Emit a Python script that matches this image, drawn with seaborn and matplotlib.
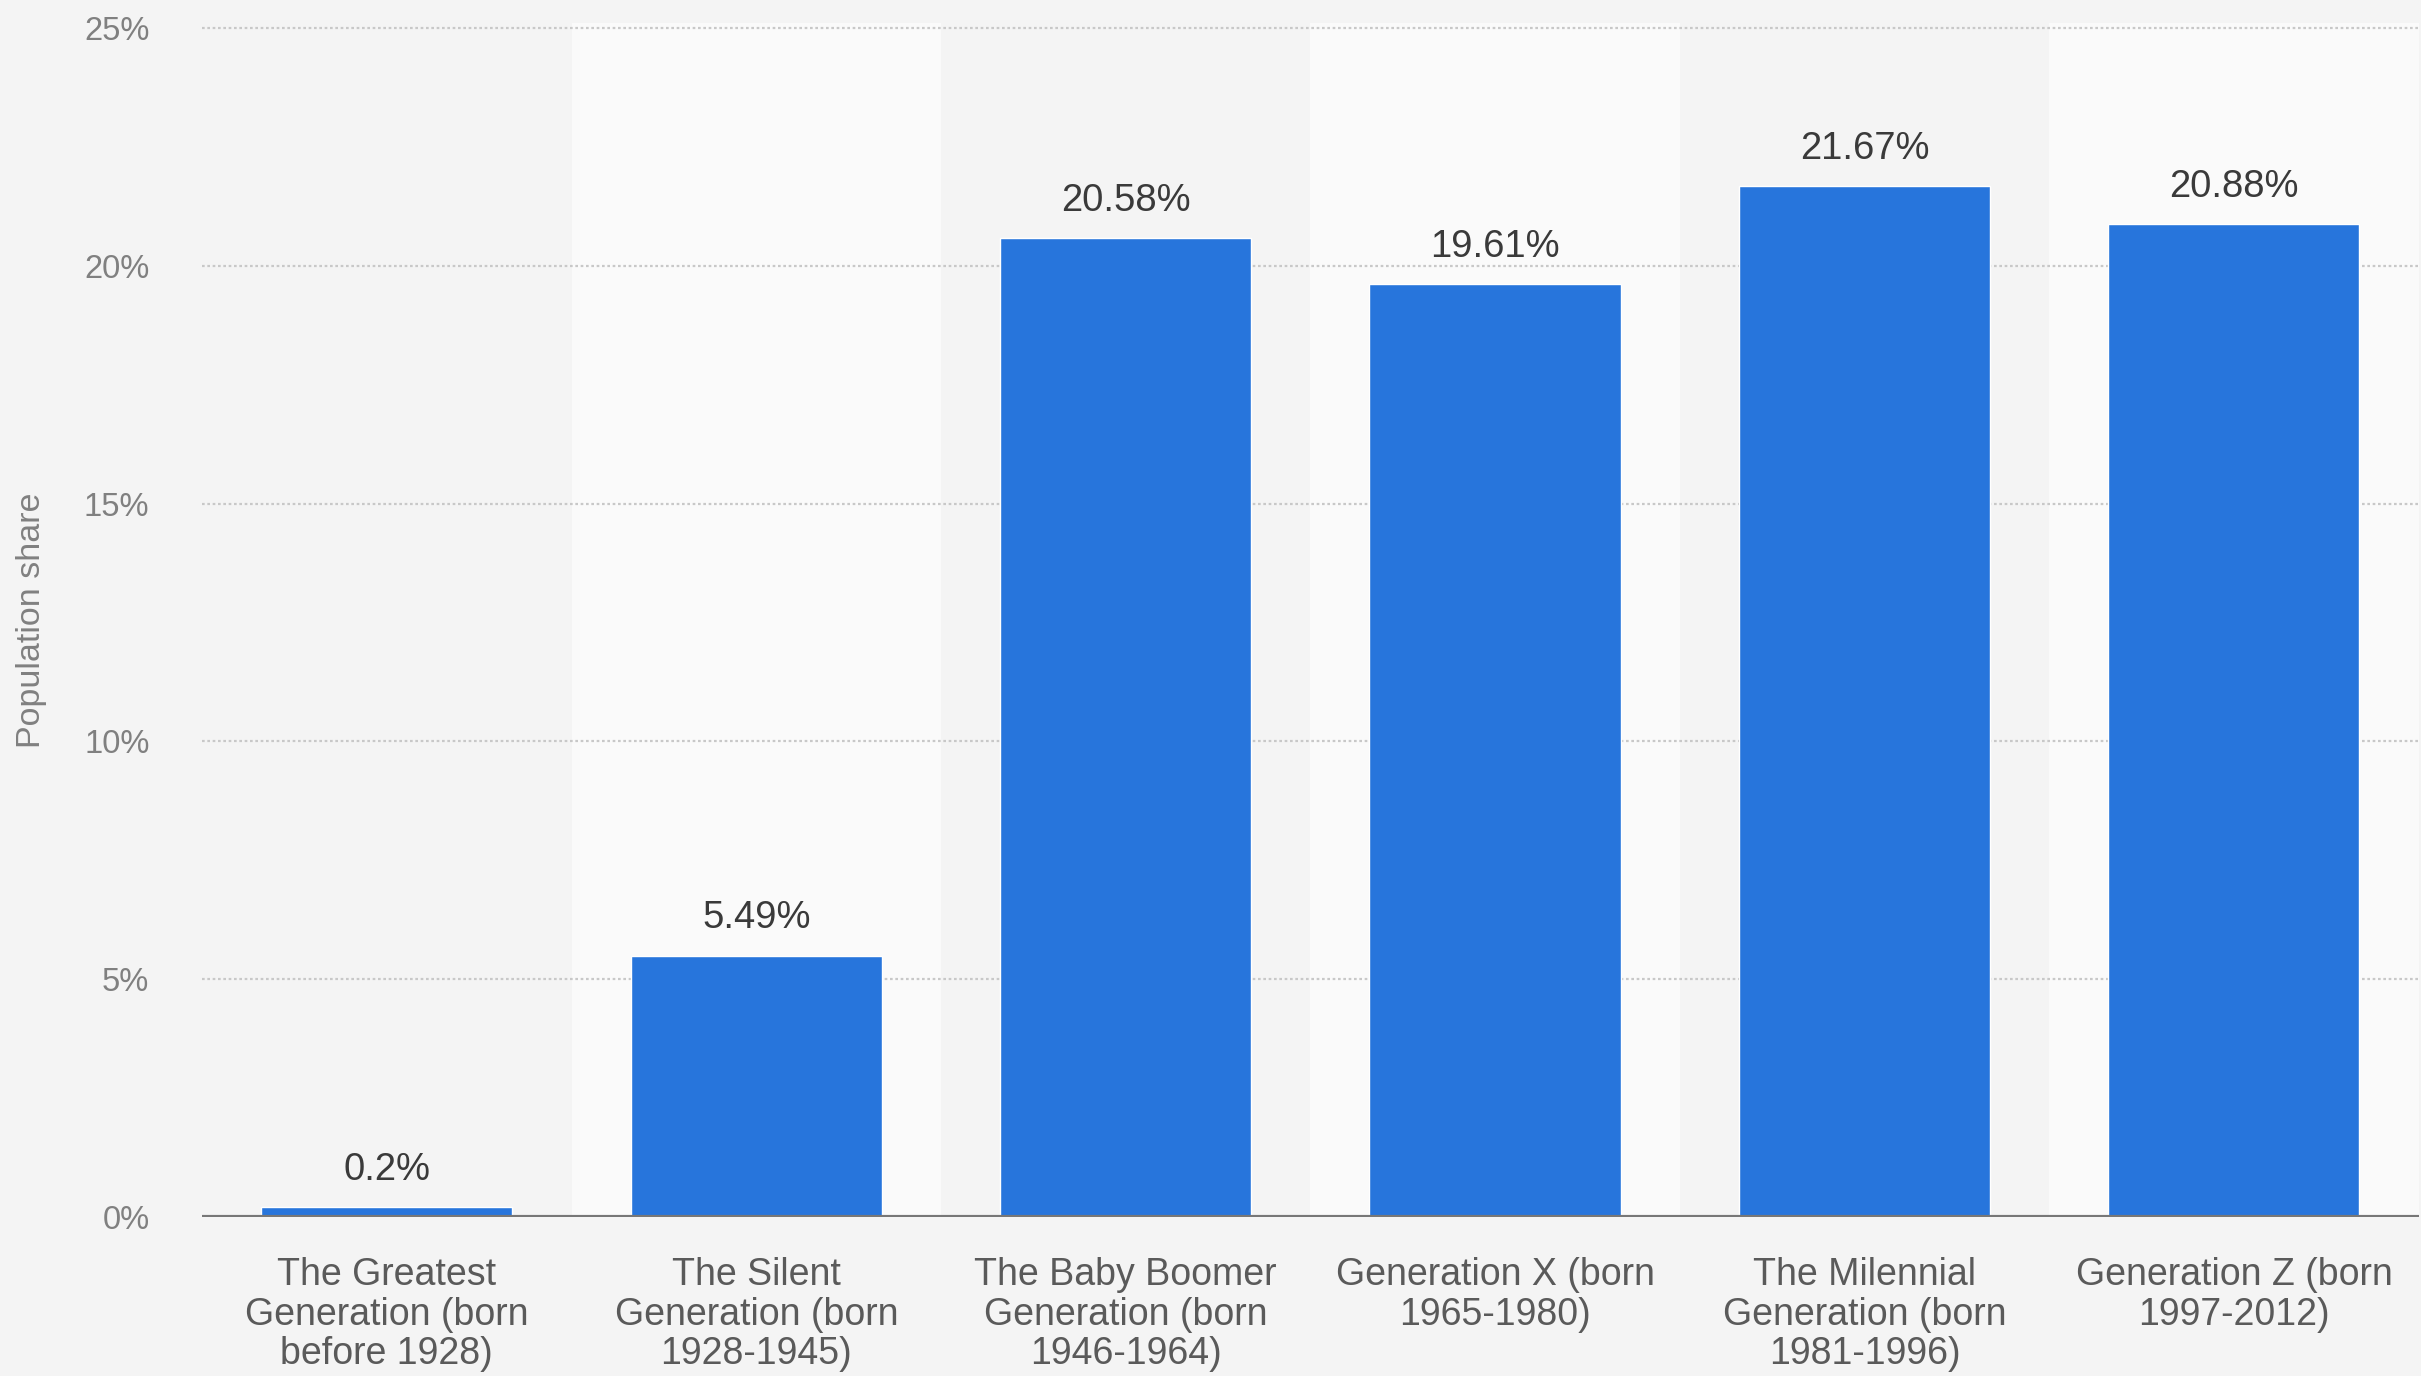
import matplotlib
matplotlib.use("Agg")
import matplotlib.pyplot as plt
import seaborn as sns
import pandas as pd

categories = [
    "The Greatest\nGeneration (born\nbefore 1928)",
    "The Silent\nGeneration (born\n1928-1945)",
    "The Baby Boomer\nGeneration (born\n1946-1964)",
    "Generation X (born\n1965-1980)",
    "The Milennial\nGeneration (born\n1981-1996)",
    "Generation Z (born\n1997-2012)",
]
values = [0.2, 5.49, 20.58, 19.61, 21.67, 20.88]
yticks = [0, 5, 10, 15, 20, 25]
ytick_labels = ["0%", "5%", "10%", "15%", "20%", "25%"]

sns.set_theme(style="white")
plt.rcParams["font.family"] = ["Liberation Sans", "DejaVu Sans"]

BG = "#f4f4f4"
fig = plt.figure(figsize=(24.21, 13.76), dpi=100, facecolor=BG)
ax = fig.add_axes([0.0835, 0.1156, 0.9155, 0.8674])
ax.set_facecolor(BG)

df = pd.DataFrame({"category": categories, "share": values})

# alternating column bands
for i in range(len(categories)):
    if i % 2 == 1:
        ax.axvspan(i - 0.5, i + 0.5, color="#fafafa", zorder=0, lw=0)

sns.barplot(data=df, x="category", y="share", color="#2775dc", width=0.68,
            saturation=1, ax=ax, zorder=3)

ax.set_xlim(-0.5, len(categories) - 0.5)
ax.set_ylim(0, 25.1)
ax.set_yticks(yticks)
ax.set_yticklabels(ytick_labels)

for y in yticks[1:]:
    ax.axhline(y, color="#c8c8c8", lw=1.6, ls=(0, (1.2, 1.2)), zorder=1)
ax.axhline(0, color="#777777", lw=3, zorder=4)

for s in ax.spines.values():
    s.set_visible(False)

ax.tick_params(axis="y", length=0, pad=38, labelsize=23.5, labelcolor="#808080")
ax.tick_params(axis="x", length=0, pad=29, labelsize=27, labelcolor="#5a5a5a")
for lab in ax.get_xticklabels():
    lab.set_linespacing(1.12)

ax.set_xlabel("")
ax.set_ylabel("Population share", fontsize=24.5, color="#808080", labelpad=30)
ax.yaxis.set_label_coords(-0.07, 0.5)

ax.bar_label(ax.containers[0], labels=[f"{v:g}%" for v in values],
             padding=14, fontsize=27.5, color="#3a3a3a")

fig.savefig("out.png", dpi=100, facecolor=BG)
